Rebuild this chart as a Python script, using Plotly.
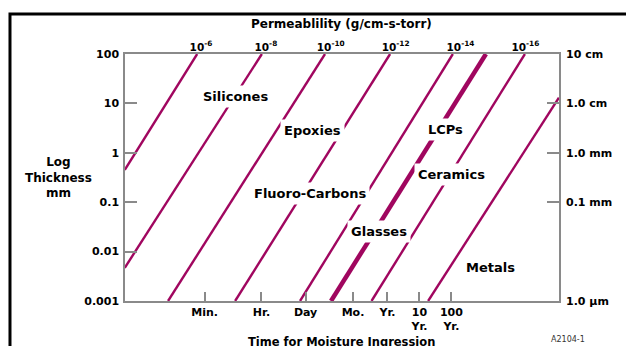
import plotly.graph_objects as go

# ---------------- data ----------------
time_ticks_s = [60, 3600, 86400, 2.63e6, 3.156e7, 3.156e8, 3.156e9]
time_tick_labels = ["Min.", "Hr.", "Day", "Mo.", "Yr.", "10<br>Yr.", "100<br>Yr."]

thick_ticks_mm = [0.001, 0.01, 0.1, 1, 10, 100]
thick_tick_labels = ["0.001", "0.01", "0.1", "1", "10", "100"]

right_ticks_mm = [0.001, 0.1, 1, 10, 100]
right_tick_labels = ["1.0 µm", "0.1 mm", "1.0 mm", "1.0 cm", "10 cm"]

perm_ticks = [1e-6, 1e-8, 1e-10, 1e-12, 1e-14, 1e-16]
perm_tick_labels = ["10<sup>-6</sup>", "10<sup>-8</sup>", "10<sup>-10</sup>",
                    "10<sup>-12</sup>", "10<sup>-14</sup>", "10<sup>-16</sup>"]

# iso-permeability lines: (time s, thickness mm) at start and end
line_t_start = [0.19, 0.19, 4.3, 540, 5.8e4, 5.4e5, 1.0e7, 5.9e8]
line_L_start = [0.45, 0.0047, 0.001, 0.001, 0.001, 0.001, 0.001, 0.001]
line_t_end = [35, 3700, 3.5e5, 3.8e7, 3.5e9, 3.8e10, 6.3e11, 7.3e12]
line_L_end = [100, 100, 100, 100, 100, 100, 100, 13]

material_names = ["Silicones", "Epoxies", "Fluoro-Carbons", "Glasses",
                  "LCPs", "Ceramics", "Metals"]
material_log_t = [2.73, 5.14, 5.08, 7.23, 9.30, 9.49, 10.71]
material_log_L = [1.13, 0.46, -0.83, -1.60, 0.48, -0.43, -2.33]

# ---------------- styling ----------------
LINE_COLOR = "#A0065F"
AXIS_COLOR = "#8a8a8a"
FONT = "DejaVu Sans"
THICK_INDEX = 5

fig = go.Figure()

for i in range(len(line_t_start)):
    fig.add_trace(go.Scatter(
        x=[line_t_start[i], line_t_end[i]],
        y=[line_L_start[i], line_L_end[i]],
        mode="lines",
        line=dict(color=LINE_COLOR, width=4.5 if i == THICK_INDEX else 2.4),
        hoverinfo="skip", showlegend=False,
    ))

# invisible trace to activate the secondary axes (top permeability, right thickness)
fig.add_trace(go.Scatter(
    x=perm_ticks, y=[100] * len(perm_ticks), xaxis="x2", yaxis="y2",
    mode="markers", marker=dict(opacity=0), hoverinfo="skip", showlegend=False,
))

for name, lt, lL in zip(material_names, material_log_t, material_log_L):
    fig.add_annotation(
        x=lt, y=lL, xref="x", yref="y", text=name, showarrow=False,
        xanchor="center", yanchor="middle",
        font=dict(family=FONT, size=13, color="black", weight="bold"),
        bgcolor="white", borderpad=3,
    )

# page body has an 8px margin, so margins are shifted to compensate
fig.update_layout(
    width=634, height=346,
    margin=dict(l=117, r=83, t=46, b=53),
    paper_bgcolor="white", plot_bgcolor="white",
    font=dict(family=FONT, color="black"),
    xaxis=dict(
        type="log", range=[-0.714, 12.866], automargin=False,
        tickvals=time_ticks_s, ticktext=time_tick_labels,
        ticks="inside", ticklen=9, tickcolor=AXIS_COLOR, tickwidth=1.5,
        tickfont=dict(family=FONT, size=11, weight="bold"),
        showgrid=False, zeroline=False,
        showline=True, linecolor=AXIS_COLOR, linewidth=1.5, mirror=True,
    ),
    yaxis=dict(
        type="log", range=[-3, 2], automargin=False,
        tickvals=thick_ticks_mm, ticktext=thick_tick_labels,
        ticks="inside", ticklen=12, tickcolor=AXIS_COLOR, tickwidth=1.5,
        tickfont=dict(family=FONT, size=11, weight="bold"),
        ticklabelstandoff=2,
        showgrid=False, zeroline=False,
        showline=True, linecolor=AXIS_COLOR, linewidth=1.5, mirror=True,
    ),
    xaxis2=dict(
        type="log", range=[-3.657, -17.036], overlaying="x", side="top",
        anchor="y", automargin=False, tickvals=perm_ticks, ticktext=perm_tick_labels,
        ticks="", tickfont=dict(family=FONT, size=10.5, weight="bold"),
        showgrid=False, zeroline=False, showline=False,
    ),
    yaxis2=dict(
        type="log", range=[-3, 2], overlaying="y", side="right", anchor="x",
        automargin=False,
        tickvals=right_ticks_mm, ticktext=right_tick_labels,
        ticks="inside", ticklen=12, tickcolor=AXIS_COLOR, tickwidth=1.5,
        tickfont=dict(family=FONT, size=11, weight="bold"),
        ticklabelstandoff=6,
        showgrid=False, zeroline=False, showline=False,
    ),
)

# axis titles and figure id
fig.add_annotation(
    x=-0.154, y=0.502, xref="paper", yref="paper", xanchor="center", yanchor="middle",
    text="Log<br>Thickness<br>mm", showarrow=False, align="center",
    font=dict(family=FONT, size=12, weight="bold"),
)
fig.add_annotation(
    x=0.498, y=1.121, xref="paper", yref="paper", xanchor="center", yanchor="middle",
    text="Permeablility (g/cm-s-torr)", showarrow=False,
    font=dict(family=FONT, size=12, weight="bold"),
)
fig.add_annotation(
    x=0.498, y=-0.166, xref="paper", yref="paper", xanchor="center", yanchor="middle",
    text="Time for Moisture Ingression", showarrow=False,
    font=dict(family=FONT, size=11.5, weight="bold"),
)
fig.add_annotation(
    x=1.021, y=-0.154, xref="paper", yref="paper", xanchor="center", yanchor="middle",
    text="A2104-1", showarrow=False,
    font=dict(family=FONT, size=8, color="#333333"),
)

# outer frame of the figure
fig.add_shape(
    type="rect", xref="paper", yref="paper",
    x0=-0.265, y0=-0.5, x1=1.5, y1=1.162,
    line=dict(color="black", width=3), layer="below",
)

fig.write_html("out.html")
